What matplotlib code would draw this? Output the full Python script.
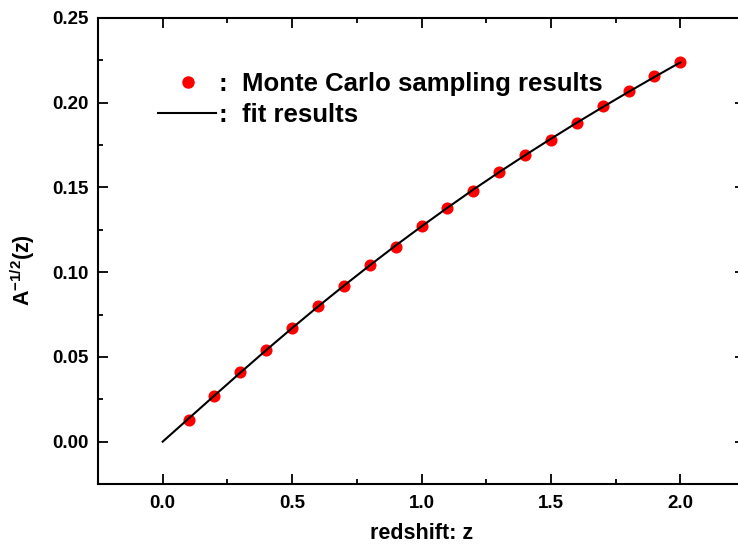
import matplotlib
matplotlib.use("Agg")
import matplotlib.pyplot as plt
from matplotlib.ticker import MultipleLocator, FormatStrFormatter

plt.rcParams['font.family'] = ['Liberation Sans', 'DejaVu Sans']
plt.rcParams['font.weight'] = 'bold'
plt.rcParams['mathtext.fontset'] = 'custom'
plt.rcParams['mathtext.rm'] = 'Liberation Sans:bold'
plt.rcParams['mathtext.bf'] = 'Liberation Sans:bold'
plt.rcParams['mathtext.it'] = 'Liberation Sans:bold'

# Monte Carlo sampling results
mc_z = [0.1, 0.2, 0.3, 0.4, 0.5, 0.6, 0.7, 0.8, 0.9, 1.0,
        1.1, 1.2, 1.3, 1.4, 1.5, 1.6, 1.7, 1.8, 1.9, 2.0]
mc_val = [0.013, 0.027, 0.041, 0.054, 0.067, 0.080, 0.092, 0.104, 0.115, 0.127,
          0.138, 0.148, 0.159, 0.169, 0.178, 0.188, 0.198, 0.207, 0.216, 0.224]

# fit results
fit_z = [0.0, 0.1, 0.2, 0.3, 0.4, 0.5, 0.6, 0.7, 0.8, 0.9, 1.0,
         1.1, 1.2, 1.3, 1.4, 1.5, 1.6, 1.7, 1.8, 1.9, 2.0]
fit_val = [0.0, 0.0136, 0.0272, 0.0407, 0.0540, 0.0670, 0.0797, 0.0920, 0.1040, 0.1157, 0.1270,
           0.1380, 0.1487, 0.1590, 0.1690, 0.1787, 0.1882, 0.1974, 0.2064, 0.2152, 0.2238]

xticks = [0.0, 0.5, 1.0, 1.5, 2.0]
yticks = [0.00, 0.05, 0.10, 0.15, 0.20, 0.25]

fig = plt.figure(figsize=(7.38, 5.5), dpi=100)
ax = fig.add_axes([98/738, 66/550, 647/738, 466/550])

ax.plot(fit_z, fit_val, color='black', lw=1.5, zorder=3)
ax.plot(mc_z, mc_val, 'o', color='#ff0000', markersize=8.7, markeredgewidth=0, zorder=2)

ax.set_xlim(-0.25, 2.25)
ax.set_ylim(-0.025, 0.25)
ax.set_xticks(xticks)
ax.set_yticks(yticks)
ax.xaxis.set_minor_locator(MultipleLocator(0.25))
ax.yaxis.set_minor_locator(MultipleLocator(0.025))
ax.xaxis.set_major_formatter(FormatStrFormatter('%.1f'))
ax.yaxis.set_major_formatter(FormatStrFormatter('%.2f'))

for s in ax.spines.values():
    s.set_linewidth(1.5)
ax.tick_params(which='both', direction='in', top=True, right=True, width=1.3)
ax.tick_params(which='major', length=7, labelsize=13.5)
ax.tick_params(axis='y', which='major', pad=7)
ax.tick_params(axis='x', which='major', pad=8)
ax.tick_params(which='minor', length=3.5)
for lab in ax.get_xticklabels() + ax.get_yticklabels():
    lab.set_fontweight('bold')

ax.set_xlabel('redshift: z', fontsize=15.5, fontweight='bold')
ax.xaxis.set_label_coords(0.5, -0.083)
ax.set_ylabel(r'$\mathbf{A^{-1/2}(z)}$', fontsize=15.5)
ax.yaxis.set_label_coords(-0.094, 0.46)

# legend drawn manually
ax.plot([0.139], [0.863], 'o', color='#ff0000', markersize=9, markeredgewidth=0,
        transform=ax.transAxes, clip_on=False)
ax.plot([0.0927, 0.1824], [0.796, 0.796], color='black', lw=1.5,
        transform=ax.transAxes, clip_on=False)
ax.text(0.186, 0.843, ':', transform=ax.transAxes, fontsize=18.5, fontweight='bold', va='baseline')
ax.text(0.186, 0.777, ':', transform=ax.transAxes, fontsize=18.5, fontweight='bold', va='baseline')
ax.text(0.2226, 0.843, 'Monte Carlo sampling results', transform=ax.transAxes,
        fontsize=18.5, fontweight='bold', va='baseline')
ax.text(0.2226, 0.777, 'fit results', transform=ax.transAxes,
        fontsize=18.5, fontweight='bold', va='baseline')

fig.savefig('out.png', dpi=100)
